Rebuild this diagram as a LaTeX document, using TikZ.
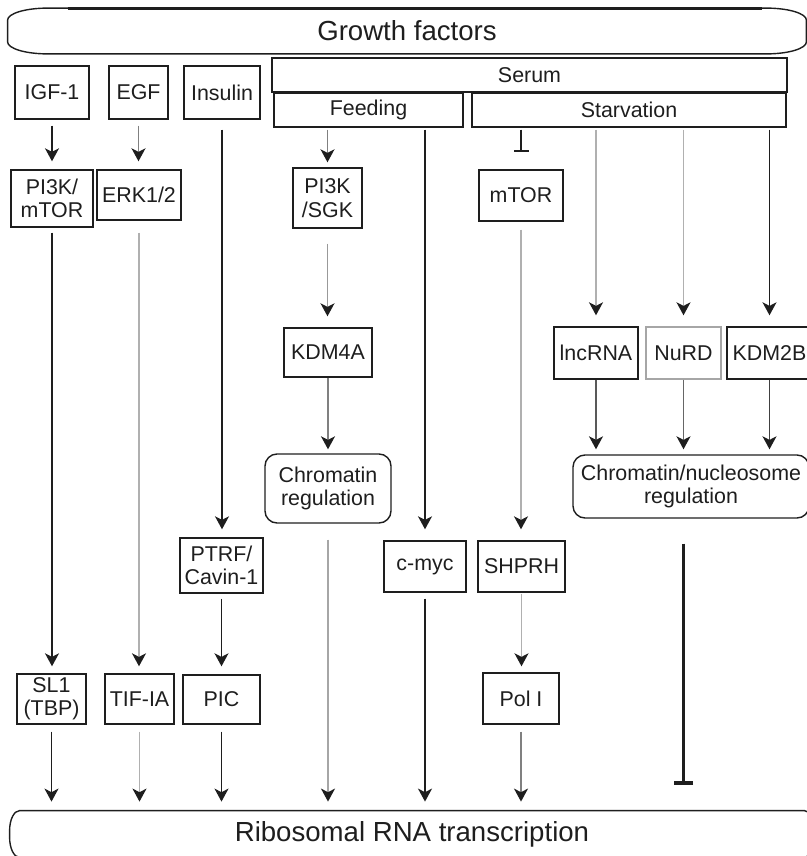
\documentclass[tikz,border=0pt]{standalone}
\usepackage{fontspec}
\setmainfont{Liberation Sans}
\usepackage{xcolor}
\usetikzlibrary{arrows.meta,calc}
\definecolor{ink}{HTML}{1E1E1E}
\definecolor{midgrey}{HTML}{808080}
\definecolor{lightgrey}{HTML}{B0B0B0}
\newcommand{\boxfont}{\fontsize{10.7}{11.7}\selectfont}
\newcommand{\bigfont}{\fontsize{13.8}{16}\selectfont}
\tikzset{
  bx/.style={rectangle, draw=#1, line width=0.7pt, inner sep=0pt,
             align=center, font=\boxfont, text=ink},
  bx/.default=ink,
  rbx/.style={bx, rounded corners=6pt},
  pill/.style={draw=ink, line width=0.7pt},
  ar/.style={-{Stealth[length=6.5pt,width=7pt,inset=1.8pt,color=ink]},
             line width=0.8pt, draw=#1, shorten <=3pt, shorten >=4pt},
  ar/.default=ink,
  inh/.style={-{Bar[width=7.5pt,line width=1.1pt,color=ink]}, line width=0.8pt,
              draw=ink, shorten <=1pt, shorten >=8.5pt},
}

\begin{document}
\begin{tikzpicture}[x=0.5pt, y=-0.5pt]
  \useasboundingbox (0,0) rectangle (807,856);

  % top and bottom bars
  \node[font=\bigfont, text=ink, inner sep=0pt, minimum width=399pt,
        minimum height=22.5pt] (gf) at (407,31) {Growth factors};
  \draw[pill] ($(gf.north west)+(20pt,0)$) -- ($(gf.north east)+(-20pt,0)$)
    arc[start angle=90, end angle=0, x radius=20pt, y radius=6pt]
    -- ($(gf.south east)+(0,6pt)$)
    arc[start angle=0, end angle=-90, x radius=20pt, y radius=6pt]
    -- ($(gf.south west)+(20pt,0)$)
    arc[start angle=270, end angle=180, x radius=20pt, y radius=6pt]
    -- ($(gf.north west)+(0,-6pt)$)
    arc[start angle=180, end angle=90, x radius=20pt, y radius=6pt] -- cycle;
  \draw[ink, line width=1.5pt] ($(gf.north west)+(30pt,0)$) -- ($(gf.north east)+(-22pt,0)$);

  \node[font=\bigfont, text=ink, inner sep=0pt, minimum width=402pt,
        minimum height=23pt] (rrna) at (412,834) {Ribosomal RNA transcription};
  \draw[pill] ($(rrna.north west)+(5pt,0)$) -- ($(rrna.north east)+(-5pt,0)$)
    arc[start angle=90, end angle=0, x radius=5pt, y radius=10pt]
    -- ($(rrna.south east)+(0,10pt)$)
    arc[start angle=0, end angle=-90, x radius=5pt, y radius=10pt]
    -- ($(rrna.south west)+(5pt,0)$)
    arc[start angle=270, end angle=180, x radius=5pt, y radius=10pt]
    -- ($(rrna.north west)+(0,-10pt)$)
    arc[start angle=180, end angle=90, x radius=5pt, y radius=10pt] -- cycle;

  % inputs
  \node[bx, minimum width=37pt, minimum height=26.5pt] (igf) at (52,92.5) {IGF-1};
  \node[bx, minimum width=29.5pt, minimum height=26.5pt] (egf) at (138.5,92.5) {EGF};
  \node[bx, minimum width=38pt, minimum height=26.5pt] (ins) at (222,92.5) {Insulin};
  \node[bx, minimum width=257.5pt, minimum height=17pt] (serum) at (529.5,75) {Serum};
  \node[bx, minimum width=94.5pt, minimum height=17pt] (feed) at (368.5,110) {Feeding};
  \node[bx, minimum width=157pt, minimum height=17pt] (starv) at (629,110) {Starvation};

  % kinases
  \node[bx, minimum width=41pt, minimum height=28.5pt] (pik) at (52,198.5) {PI3K/\\mTOR};
  \node[bx, minimum width=42pt, minimum height=25pt] (erk) at (139,195) {ERK1/2};
  \node[bx, minimum width=34.5pt, minimum height=30pt] (sgk) at (327.5,198) {PI3K\\/SGK};
  \node[bx, minimum width=42pt, minimum height=25.5pt] (mtor) at (521,195.5) {mTOR};

  % chromatin factors
  \node[bx, minimum width=44pt, minimum height=24.5pt] (kdma) at (328,352.5) {KDM4A};
  \node[bx, minimum width=42pt, minimum height=26pt] (lnc) at (596,353) {lncRNA};
  \node[bx=black!35, minimum width=37.5pt, minimum height=26pt] (nurd) at (683.5,353) {NuRD};
  \node[bx, minimum width=42.5pt, minimum height=26pt] (kdmb) at (769.5,353) {KDM2B};
  \node[rbx, minimum width=63pt, minimum height=34.5pt] (chrom) at (328,488.5) {Chromatin\\regulation};
  \node[rbx, minimum width=118pt, minimum height=31.5pt] (nucl) at (691,486.5) {Chromatin/nucleosome\\regulation};

  % effectors
  \node[bx, minimum width=41.5pt, minimum height=27.5pt] (ptrf) at (221.5,565.5) {PTRF/\\Cavin-1};
  \node[bx, minimum width=41pt, minimum height=25.5pt] (myc) at (425,566.5) {c-myc};
  \node[bx, minimum width=43.5pt, minimum height=25.5pt] (shprh) at (521.5,566.5) {SHPRH};
  \node[bx, minimum width=34.5pt, minimum height=25pt] (sl) at (51.5,699) {SL1\\(TBP)};
  \node[bx, minimum width=34.5pt, minimum height=25pt] (tif) at (139.5,699) {TIF-IA};
  \node[bx, minimum width=38.5pt, minimum height=24.5pt] (pic) at (221.5,699.5) {PIC};
  \node[bx, minimum width=38pt, minimum height=25.5pt] (pol) at (521,698.5) {Pol I};

  \draw[ar] (igf) -- (igf |- pik.north);
  \draw[ar=midgrey] (egf) -- (egf |- erk.north);
  \draw[ar, shorten <=5pt] (ins) -- (ins |- ptrf.north);
  \draw[ar=midgrey, shorten <=1pt, shorten >=2.5pt] (feed.south -| sgk) -- (sgk.north);
  \draw[ar, shorten <=1pt, shorten >=5.5pt] (feed.south -| myc) -- (myc.north);
  \draw[inh] (starv.south -| mtor) -- (mtor.north);
  \draw[ar=lightgrey, shorten <=1pt, shorten >=5.5pt] (starv.south -| lnc) -- (lnc.north);
  \draw[ar=lightgrey, shorten <=1pt, shorten >=5.5pt] (starv.south -| nurd) -- (nurd.north);
  \draw[ar, shorten <=1pt, shorten >=5.5pt] (starv.south -| kdmb) -- (kdmb.north);

  \draw[ar, shorten <=2.5pt, shorten >=3.5pt] (pik) -- (pik |- sl.north);
  \draw[ar=lightgrey, shorten <=6pt, shorten >=3.5pt] (erk) -- (erk |- tif.north);
  \draw[ar=black!40, shorten <=7.5pt, shorten >=5.5pt] (sgk) -- (sgk |- kdma.north);
  \draw[ar=lightgrey, shorten <=4pt, shorten >=5.5pt] (mtor) -- (mtor |- shprh.north);
  \draw[ar=midgrey, shorten <=0pt, shorten >=2pt] (kdma) -- (kdma |- chrom.north);
  \draw[ar=black!65, shorten <=0pt, shorten >=2.5pt] (lnc) -- (lnc |- nucl.north);
  \draw[ar=black!60, shorten <=0pt, shorten >=2.5pt] (nurd) -- (nurd |- nucl.north);
  \draw[ar=black!75, shorten <=0pt, shorten >=2.5pt] (kdmb) -- (kdmb |- nucl.north);
  \draw[ar, shorten <=2.5pt] (ptrf) -- (ptrf |- pic.north);
  \draw[ar=lightgrey, shorten <=0.5pt, shorten >=3pt] (shprh) -- (shprh |- pol.north);

  \draw[ar, shorten <=3.5pt, shorten >=4.5pt] (sl) -- (sl |- rrna.north);
  \draw[ar=lightgrey, shorten <=3.5pt, shorten >=4.5pt] (tif) -- (tif |- rrna.north);
  \draw[ar, shorten <=3.5pt, shorten >=4.5pt] (pic) -- (pic |- rrna.north);
  \draw[ar=midgrey, shorten <=3.5pt, shorten >=4.5pt] (pol) -- (pol |- rrna.north);
  \draw[ar=black!35, shorten <=8pt, shorten >=4.5pt] (chrom) -- (chrom |- rrna.north);
  \draw[ar, shorten <=3pt, shorten >=4.5pt] (myc) -- (myc |- rrna.north);
  \draw[inh, line width=1.6pt, -{Bar[width=9.5pt,color=ink]}, shorten <=12.5pt, shorten >=13pt]
    (nurd |- nucl.south) -- (nurd |- rrna.north);
\end{tikzpicture}
\end{document}
